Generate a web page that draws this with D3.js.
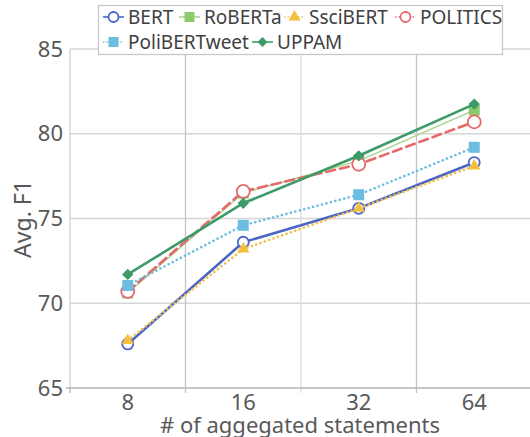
<!DOCTYPE html>
<meta charset="utf-8">
<script src="https://d3js.org/d3.v7.min.js"></script>
<style>
  body { margin: 0; background: white; }
  text { font-family: "Noto Sans", "Open Sans", sans-serif; fill: #595959; }
</style>
<svg id="chart" width="530" height="437"></svg>
<script>
  // data
  var categories = ["8", "16", "32", "64"];
  var seriesNames = ["BERT", "RoBERTa", "SsciBERT", "POLITICS", "PoliBERTweet", "UPPAM"];
  var bert = [67.6, 73.6, 75.6, 78.3];
  var roberta = [70.6, 76.5, 78.4, 81.4];
  var ssciBert = [67.8, 73.2, 75.6, 78.1];
  var politics = [70.7, 76.6, 78.2, 80.7];
  var poliBertweet = [71.05, 74.6, 76.4, 79.2];
  var uppam = [71.7, 75.9, 78.7, 81.75];
  var yTicks = [65, 70, 75, 80, 85];

  var values = [bert, roberta, ssciBert, politics, poliBertweet, uppam];
  var styles = [
    {color: "#4a67c6", width: 2.6, dash: null, marker: "circle", fill: "white", size: 5.5},
    {color: "#a9d28f", width: 1.4, dash: null, marker: "square", fill: "#8ccb6b", size: 11},
    {color: "#f2c04a", width: 2.6, dash: "0.1 4.5", marker: "triangle", fill: "#f5c040", size: 12},
    {color: "#e66a6a", width: 2.6, dash: "9 5", marker: "circle", fill: "white", size: 6.5},
    {color: "#6dbde0", width: 2.6, dash: "0.1 4.5", marker: "square", fill: "#6dbde0", size: 11},
    {color: "#3c9b68", width: 2.6, dash: null, marker: "diamond", fill: "#3c9b68", size: 8}
  ];

  var svg = d3.select("#chart");
  var plotLeft = 70, plotRight = 532, plotTop = 49, plotBottom = 388;

  var x = d3.scaleBand().domain(categories).range([plotLeft, plotRight]);
  var y = d3.scaleLinear().domain([65, 85]).range([plotBottom, plotTop]);

  // horizontal grid
  svg.append("g").selectAll("line")
    .data(yTicks.slice(1))
    .enter().append("line")
      .attr("x1", plotLeft).attr("x2", plotRight)
      .attr("y1", d => y(d)).attr("y2", d => y(d))
      .attr("stroke", "#d6d6d6").attr("stroke-width", 1.3);

  // vertical grid at category boundaries
  var bounds = categories.slice(1).map(c => x(c));
  svg.append("g").selectAll("line")
    .data(bounds)
    .enter().append("line")
      .attr("x1", d => d).attr("x2", d => d)
      .attr("y1", plotTop).attr("y2", plotBottom + 5)
      .attr("stroke", (d, i) => i == 1 ? "#dcdce4" : "#c4c4c4").attr("stroke-width", 1.3);

  // axes
  svg.append("line").attr("x1", plotLeft).attr("x2", plotLeft).attr("y1", plotTop).attr("y2", plotBottom)
    .attr("stroke", "#d0d0d0").attr("stroke-width", 1.3);
  svg.append("line").attr("x1", plotLeft - 4).attr("x2", plotRight).attr("y1", plotBottom).attr("y2", plotBottom)
    .attr("stroke", "#b4b4b4").attr("stroke-width", 1.3);
  svg.append("line").attr("x1", plotLeft).attr("x2", plotLeft).attr("y1", plotBottom).attr("y2", plotBottom + 5)
    .attr("stroke", "#b4b4b4").attr("stroke-width", 1.3);

  svg.append("g").selectAll("text")
    .data(yTicks)
    .enter().append("text")
      .attr("x", plotLeft - 7).attr("y", d => y(d) + 7.5)
      .attr("text-anchor", "end")
      .style("font-size", "22px")
      .text(d => d);

  svg.append("g").selectAll("text")
    .data(categories)
    .enter().append("text")
      .attr("x", d => x(d) + x.bandwidth() / 2).attr("y", 410)
      .attr("text-anchor", "middle")
      .style("font-size", "22px")
      .text(d => d);

  svg.append("text")
    .attr("x", 300).attr("y", 433)
    .attr("text-anchor", "middle")
    .style("font-size", "22px")
    .text("# of aggegated statements");

  svg.append("text")
    .attr("transform", "translate(31,219) rotate(-90)")
    .attr("text-anchor", "middle")
    .style("font-size", "23px")
    .text("Avg. F1");

  function drawMarker(g, s, cx, cy) {
    if (s.marker == "circle") {
      g.append("circle").attr("cx", cx).attr("cy", cy).attr("r", s.size)
        .attr("fill", s.fill).attr("stroke", s.color).attr("stroke-width", 1.8);
    } else {
      var type = s.marker == "triangle" ? d3.symbolTriangle : d3.symbolSquare;
      var area = s.marker == "triangle" ? s.size * s.size * 0.45 : s.size * s.size;
      var rot = s.marker == "diamond" ? " rotate(45)" : "";
      g.append("path")
        .attr("d", d3.symbol().type(type).size(area)())
        .attr("transform", "translate(" + cx + "," + cy + ")" + rot)
        .attr("fill", s.fill);
    }
  }

  var line = d3.line()
    .x((d, i) => x(categories[i]) + x.bandwidth() / 2)
    .y(d => y(d));

  values.forEach(function(vals, k) {
    var s = styles[k];
    var g = svg.append("g");
    g.append("path")
      .attr("d", line(vals))
      .attr("fill", "none")
      .attr("stroke", s.color)
      .attr("stroke-width", s.width)
      .attr("stroke-linecap", s.dash ? "round" : "butt")
      .attr("stroke-dasharray", s.dash);
    vals.forEach(function(v, i) {
      drawMarker(g, s, x(categories[i]) + x.bandwidth() / 2, y(v));
    });
  });

  // legend
  var legend = svg.append("g");
  legend.append("rect")
    .attr("x", 98.5).attr("y", 5.5).attr("width", 404).attr("height", 49)
    .attr("fill", "white").attr("stroke", "#c8c8c8").attr("stroke-width", 1.3);
  var legendPos = [[103, 17], [179, 17], [284, 17], [395, 17], [103, 42], [252, 42]];
  seriesNames.forEach(function(name, k) {
    var s = styles[k];
    var p = legendPos[k];
    var ls = Object.assign({}, s);
    if (s.marker == "circle") ls.size = 5;
    if (s.marker == "square") ls.size = 10;
    if (s.marker == "diamond") ls.size = 7;
    legend.append("line")
      .attr("x1", p[0]).attr("x2", p[0] + 21).attr("y1", p[1]).attr("y2", p[1])
      .attr("stroke", s.color).attr("stroke-width", 1.6)
      .attr("stroke-dasharray", s.dash ? "1.5 2" : (k == 3 ? "4 3" : null));
    drawMarker(legend, ls, p[0] + 10.5, p[1]);
    legend.append("text")
      .attr("x", p[0] + 25).attr("y", p[1] + 6.5)
      .style("font-size", "19px")
      .style("fill", "#404040")
      .text(name);
  });
</script>
</html>
